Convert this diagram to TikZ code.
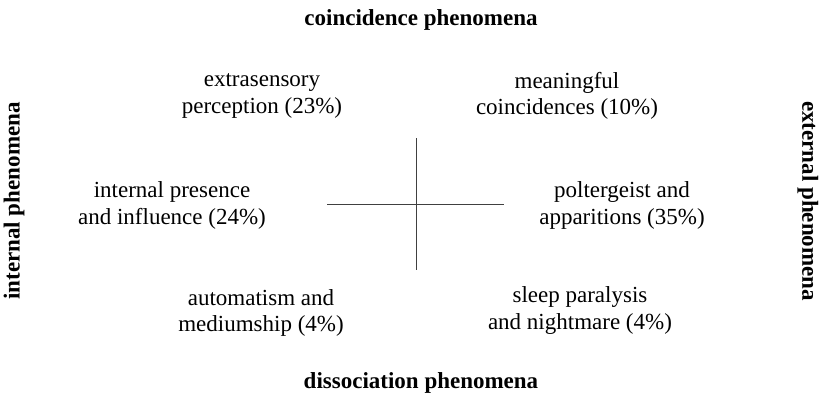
\documentclass[tikz,border=0pt]{standalone}
\usepackage{fontspec}
\setmainfont{Liberation Serif}
\usetikzlibrary{positioning}

\begin{document}
\begin{tikzpicture}[
    x=0.5pt, y=-0.5pt,
    quad/.style={align=center, inner sep=0pt, font=\fontsize{11.5}{13.2}\selectfont},
    axislabel/.style={inner sep=0pt, font=\fontsize{11.5}{13}\selectfont\bfseries},
    axisline/.style={draw=black!75, line width=0.5pt}
  ]
  \useasboundingbox (0,0) rectangle (821,398);
  % Axis labels
  \node[axislabel] (top) at (421,20) {coincidence phenomena};
  \node[axislabel] (bottom) at (421,383) {dissociation phenomena};
  \node[axislabel, rotate=90] (left) at (14,201) {internal phenomena};
  \node[axislabel, rotate=-90] (right) at (808,201) {external phenomena};
  % Cross
  \coordinate (n) at (416,138);
  \coordinate (s) at (416,270);
  \coordinate (w) at (327,204);
  \coordinate (e) at (504,204);
  \draw[axisline] (n) -- (s);
  \draw[axisline] (w) -- (e);
  % Quadrant texts
  \node[quad] (esp) at (262,96) {extrasensory\\perception (23\%)};
  \node[quad] (mc) at (567,96) {meaningful\\coincidences (10\%)};
  \node[quad] (ipi) at (172,205.5) {internal presence\\and influence (24\%)};
  \node[quad] (pa) at (622,205.5) {poltergeist and\\apparitions (35\%)};
  \node[quad] (am) at (261,313) {automatism and\\mediumship (4\%)};
  \node[quad] (sp) at (580,310.5) {sleep paralysis\\and nightmare (4\%)};
\end{tikzpicture}
\end{document}
